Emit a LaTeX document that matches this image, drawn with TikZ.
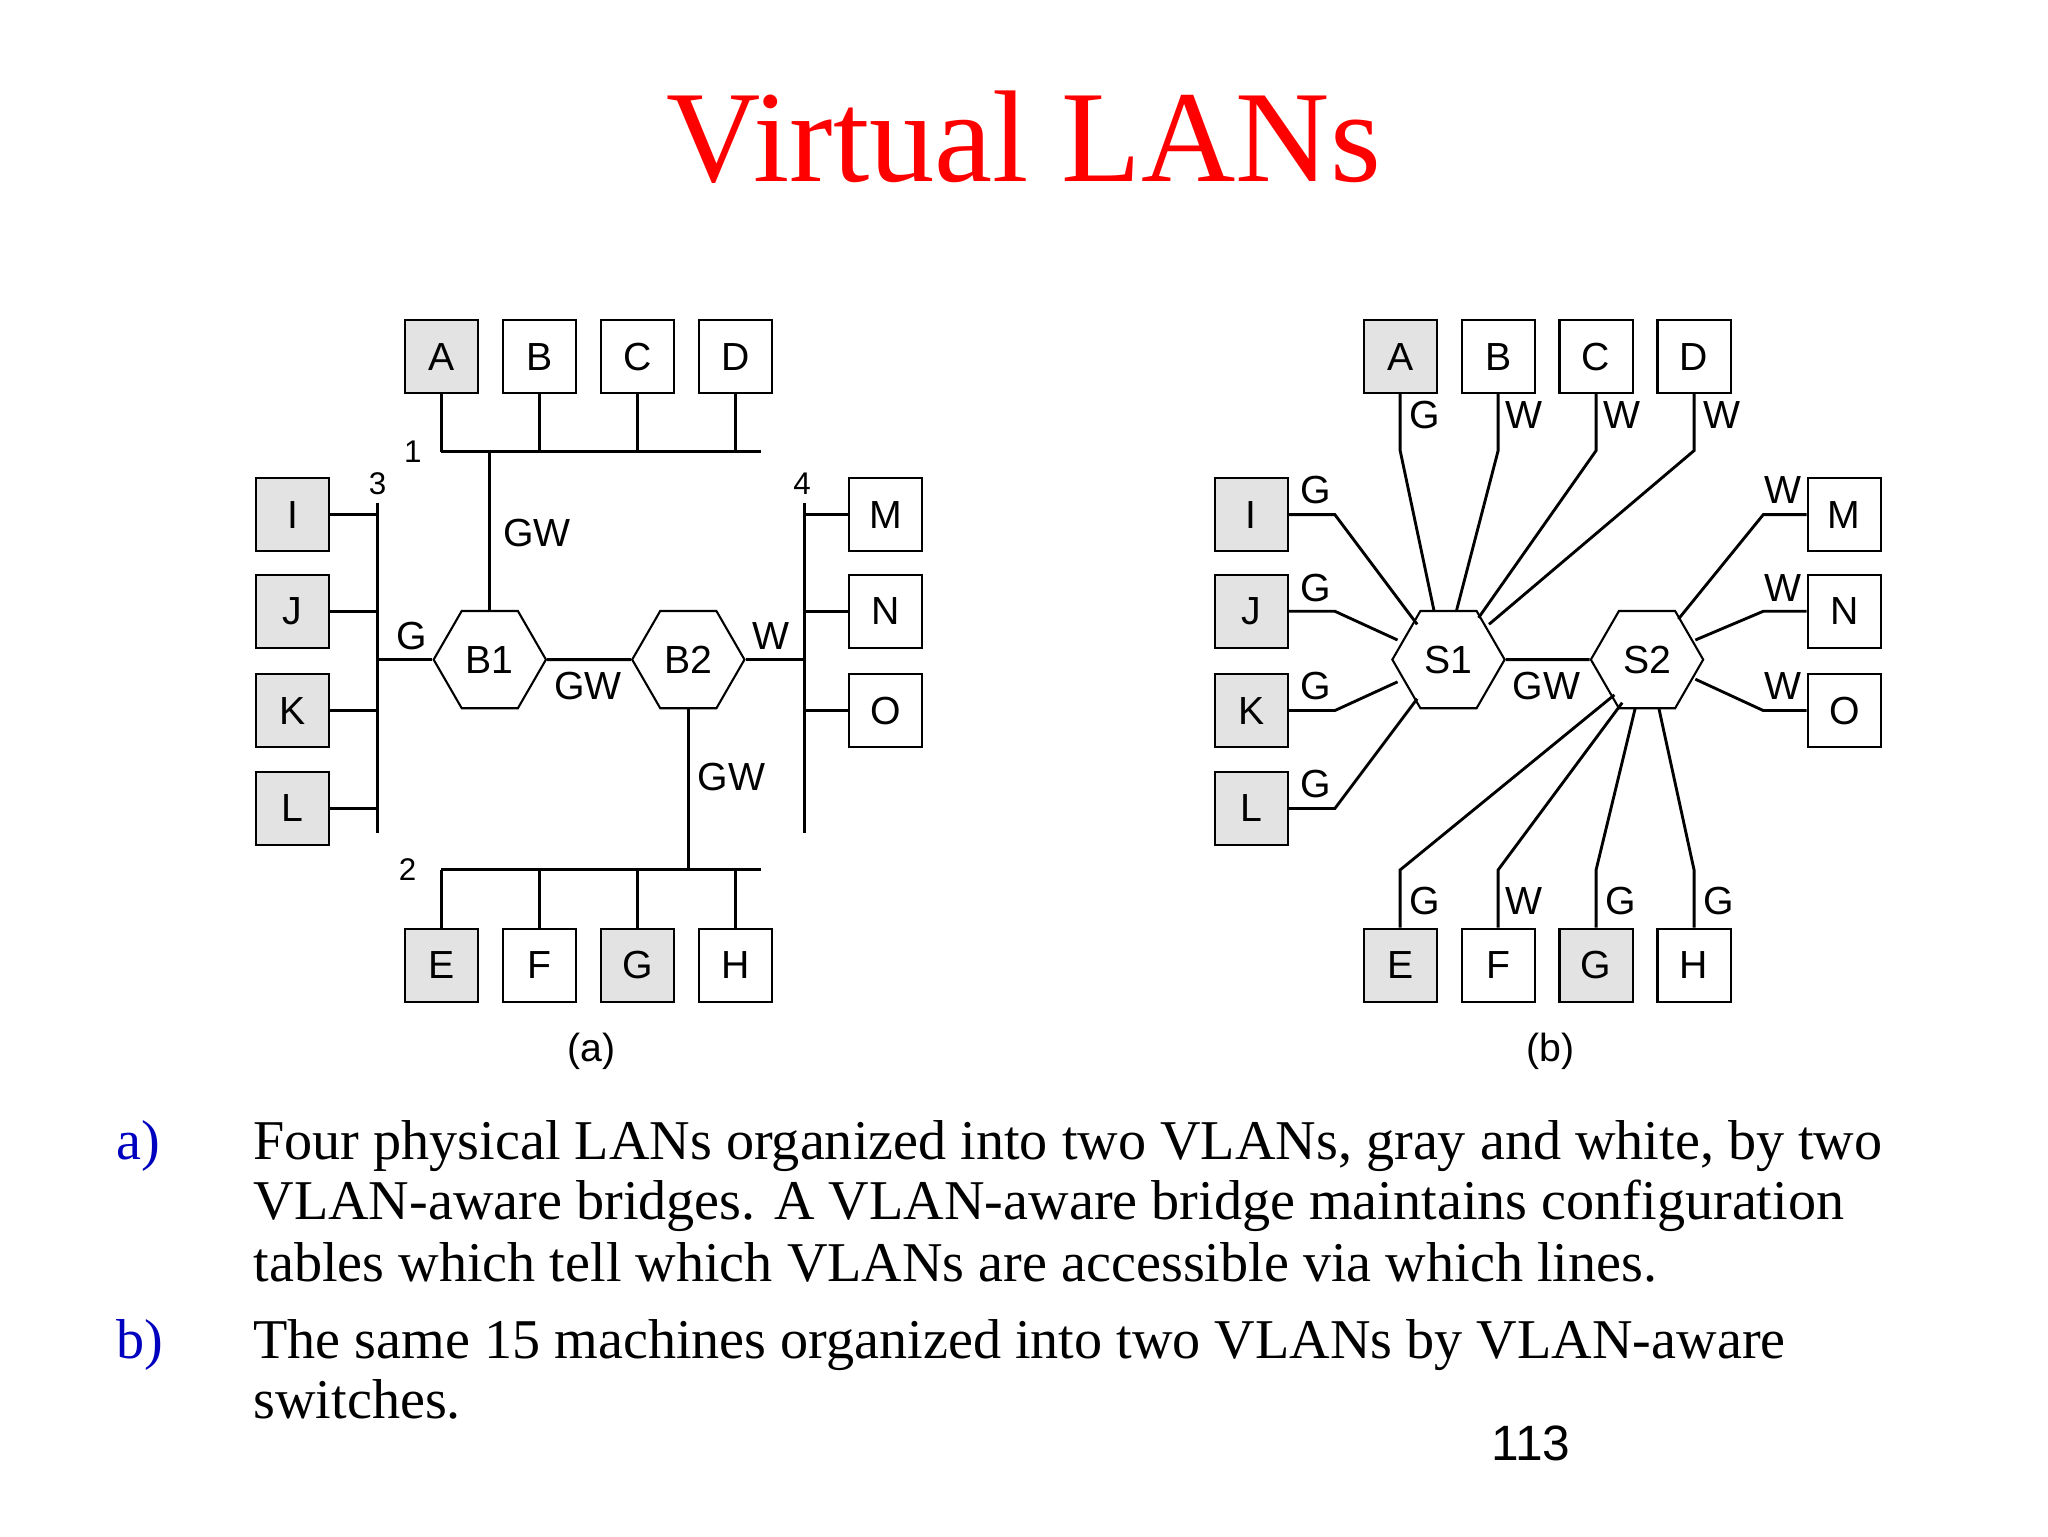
\documentclass[tikz,border=0pt]{standalone}
\usepackage{fontspec}
\setmainfont{Liberation Serif}
\newfontfamily\sff{Liberation Sans}
\usetikzlibrary{shapes.geometric}
\begin{document}
\begin{tikzpicture}[x=1pt,y=-1pt,line width=2.2pt,
 box/.style={draw,line width=1.6pt,minimum size=56pt,inner sep=0pt,font=\sff\fontsize{30}{30}\selectfont},
 gb/.style={box,fill=gray!22},
 wb/.style={box,fill=white},
 hex/.style={draw,line width=1.6pt,regular polygon,regular polygon sides=6,minimum size=86pt,inner sep=0pt,font=\sff\fontsize{30}{30}\selectfont},
 lab/.style={font=\sff\fontsize{30}{30}\selectfont,inner sep=0pt},
 num/.style={font=\sff\fontsize{24}{24}\selectfont,inner sep=0pt},
 body/.style={anchor=base west,inner sep=0pt,font=\fontsize{43}{43}\selectfont}]
\useasboundingbox (0,0) rectangle (1568,1176);
\node[red,font=\fontsize{100}{100}\selectfont] (title) at (784,105) {Virtual LANs};
% ---------- panel a
\foreach \n/\x/\s in {A/338/gb,B/413/wb,C/488/wb,D/563/wb}{\node[\s] (a\n) at (\x,273) {\n};}
\foreach \n/\x/\s in {E/338/gb,F/413/wb,G/488/gb,H/563/wb}{\node[\s] (a\n) at (\x,739) {\n};}
\foreach \n/\y in {I/394,J/468,K/544,L/619}{\node[gb] (a\n) at (224,\y) {\n};}
\foreach \n/\y in {M/394,N/468,O/544}{\node[wb] (a\n) at (678,\y) {\n};}
\node[hex] (B1) at (375,505) {B1};
\node[hex] (B2) at (527,505) {B2};
\coordinate (b1l) at (338,346); \coordinate (b1r) at (583,346);
\coordinate (b2l) at (338,666); \coordinate (b2r) at (583,666);
\coordinate (b3t) at (289,385); \coordinate (b3b) at (289,638);
\coordinate (b4t) at (616,385); \coordinate (b4b) at (616,638);
\draw (b1l)--(b1r); \draw (b2l)--(b2r); \draw (b3t)--(b3b); \draw (b4t)--(b4b);
\node[num] at (316,346) {1}; \node[num] at (312,666) {2};
\node[num] at (289,370) {3}; \node[num] at (614,370) {4};
\foreach \n in {A,B,C,D}{\draw (a\n.south) -- (a\n.south |- b1l);}
\foreach \n in {E,F,G,H}{\draw (a\n.north) -- (a\n.north |- b2l);}
\foreach \n in {I,J,K,L}{\draw (a\n.east) -- (a\n.east -| b3t);}
\foreach \n in {M,N,O}{\draw (a\n.west) -- (a\n.west -| b4t);}
\draw (B1.north) -- (B1.north |- b1l);
\draw (B2.south) -- (B2.south |- b2l);
\draw (B1.west) -- (B1.west -| b3t);
\draw (B2.east) -- (B2.east -| b4t);
\draw (B1) -- (B2);
\node[lab] at (411,408) {GW}; \node[lab] at (315,487) {G};
\node[lab] at (450,525) {GW}; \node[lab] at (590,487) {W};
\node[lab] at (560,595) {GW};
\node[lab] at (453,805) {(a)};
% ---------- panel b
\foreach \n/\x/\s in {A/1072/gb,B/1147/wb,C/1222/wb,D/1297/wb}{\node[\s] (b\n) at (\x,273) {\n};}
\foreach \n/\x/\s in {E/1072/gb,F/1147/wb,G/1222/gb,H/1297/wb}{\node[\s] (b\n) at (\x,739) {\n};}
\foreach \n/\y in {I/394,J/468,K/544,L/619}{\node[gb] (b\n) at (958,\y) {\n};}
\foreach \n/\y in {M/394,N/468,O/544}{\node[wb] (b\n) at (1412,\y) {\n};}
\node[hex] (S1) at (1109,505) {S1};
\node[hex] (S2) at (1261,505) {S2};
\draw (S1) -- (S2);
\coordinate (tA) at (1098,468); \coordinate (tB) at (1115,468);
\coordinate (tC) at (1132,473); \coordinate (tD) at (1140,478);
\foreach \n/\x/\t in {A/1072/tA,B/1147/tB,C/1222/tC,D/1297/tD}{\draw (b\n.south) -- (\x,345) -- (\t);}
\coordinate (tI) at (1085,478); \coordinate (tJ) at (1070,490);
\coordinate (tK) at (1070,522); \coordinate (tL) at (1085,535);
\foreach \n/\y/\t in {I/394/tI,J/468/tJ,K/544/tK,L/619/tL}{\draw (b\n.east) -- (1022,\y) -- (\t);}
\coordinate (tM) at (1285,474); \coordinate (tN) at (1298,490); \coordinate (tO) at (1298,520);
\foreach \n/\y/\t in {M/394/tM,N/468/tN,O/544/tO}{\draw (b\n.west) -- (1350,\y) -- (\t);}
\coordinate (tE) at (1236,532); \coordinate (tF) at (1242,538);
\coordinate (tG) at (1252,542); \coordinate (tH) at (1270,542);
\foreach \n/\x/\t in {E/1072/tE,F/1147/tF,G/1222/tG,H/1297/tH}{\draw (b\n.north) -- (\x,666) -- (\t);}
\node[lab] at (1091,318) {G}; \node[lab] at (1167,318) {W};
\node[lab] at (1242,318) {W}; \node[lab] at (1318,318) {W};
\foreach \y in {375,450,525,600}{\node[lab] at (1007,\y) {G};}
\foreach \y in {375,450,525}{\node[lab] at (1365,\y) {W};}
\node[lab] at (1091,690) {G}; \node[lab] at (1167,690) {W};
\node[lab] at (1241,690) {G}; \node[lab] at (1316,690) {G};
\node[lab] at (1184,525) {GW};
\node[lab] at (1187,805) {(b)};
% ---------- text
\node[body,blue!75!black] at (88,888) {a)};
\node[body] at (193,888) {Four physical LANs organized into two VLANs, gray and white, by two};
\node[body] at (193,934) {VLAN-aware bridges. A VLAN-aware bridge maintains configuration};
\node[body] at (193,981) {tables which tell which VLANs are accessible via which lines.};
\node[body,blue!75!black] at (88,1040) {b)};
\node[body] at (193,1040) {The same 15 machines organized into two VLANs by VLAN-aware};
\node[body] at (193,1086) {switches.};
\node[font=\sff\fontsize{38}{38}\selectfont] at (1172,1105) {113};
\end{tikzpicture}
\end{document}
